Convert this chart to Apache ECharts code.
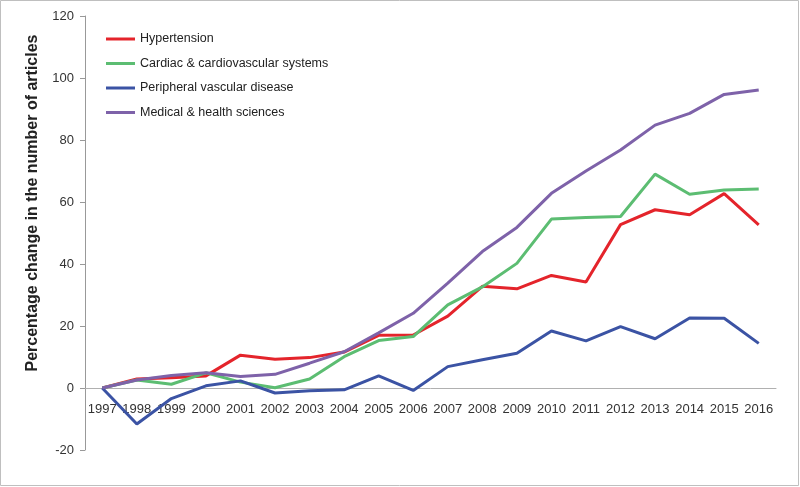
<!DOCTYPE html>
<html>
<head>
<meta charset="utf-8">
<script src="https://cdn.jsdelivr.net/npm/echarts@6/dist/echarts.min.js"></script>
<style>html,body{margin:0;padding:0;background:#fff}#chart{width:800px;height:487px}</style>
</head>
<body>
<div id="chart"></div>
<script>
var years = ['1997','1998','1999','2000','2001','2002','2003','2004','2005','2006','2007','2008','2009','2010','2011','2012','2013','2014','2015','2016'];
var hypertension = [0, 2.9, 3.3, 3.9, 10.6, 9.3, 9.8, 11.6, 17.0, 17.1, 23.2, 32.8, 32.0, 36.3, 34.2, 52.7, 57.5, 55.9, 62.7, 52.6];
var cardiac = [0, 2.6, 1.2, 4.9, 1.9, 0.1, 2.9, 10.1, 15.3, 16.6, 26.8, 32.6, 40.2, 54.5, 55.0, 55.3, 69.0, 62.5, 63.9, 64.2];
var peripheral = [0, -11.6, -3.4, 0.7, 2.3, -1.6, -0.9, -0.6, 3.9, -0.8, 6.9, 9.1, 11.2, 18.4, 15.2, 19.8, 15.9, 22.6, 22.5, 14.4];
var medical = [0, 2.6, 4.0, 4.9, 3.7, 4.4, 8.0, 11.7, 17.8, 24.1, 33.8, 44.0, 51.8, 62.8, 70.0, 76.8, 84.8, 88.6, 94.7, 96.1];
var seriesNames = ['Hypertension', 'Cardiac & cardiovascular systems', 'Peripheral vascular disease', 'Medical & health sciences'];
var yTicks = [-20, 0, 20, 40, 60, 80, 100, 120];
var yTitle = 'Percentage change in the number of articles';

var colors = ['#E4242B', '#5CBD72', '#3B53A4', '#7E62A9'];
var dataSets = [hypertension, cardiac, peripheral, medical];
var font = '"Liberation Sans", Arial, sans-serif';

var chart = echarts.init(document.getElementById('chart'), null, {renderer: 'canvas'});
chart.setOption({
  animation: false,
  color: colors,
  grid: {left: 85, right: 24, top: 16, bottom: 37, containLabel: false},
  legend: {
    orient: 'vertical', left: 101, top: 27,
    icon: 'rect', itemWidth: 29, itemHeight: 3, itemGap: 10.5,
    textStyle: {fontFamily: font, fontSize: 12.5, color: '#222', lineHeight: 14},
    data: seriesNames
  },
  xAxis: {
    type: 'category', data: years, boundaryGap: true,
    offset: -62,
    axisLine: {onZero: false, lineStyle: {color: '#B0B0B0', width: 1}},
    axisTick: {show: false},
    axisLabel: {fontFamily: font, fontSize: 13, color: '#333', margin: 15, interval: 0}
  },
  yAxis: {
    type: 'value', min: yTicks[0], max: yTicks[yTicks.length - 1], interval: 20,
    splitLine: {show: false},
    axisLine: {show: true, lineStyle: {color: '#999', width: 1}},
    axisTick: {show: true, inside: false, length: 5, lineStyle: {color: '#999'}},
    axisLabel: {fontFamily: font, fontSize: 13, color: '#333', margin: 11}
  },
  graphic: [
    {type: 'rect', shape: {x: 0.5, y: 0.5, width: 798, height: 485}, style: {fill: 'none', stroke: '#BFBFBF', lineWidth: 1}, silent: true},
    {type: 'text', x: 33, y: 203, rotation: Math.PI / 2,
     style: {text: yTitle, fontFamily: font, fontSize: 16, fontWeight: 'bold', fill: '#222', textAlign: 'center', textVerticalAlign: 'middle'}}
  ],
  series: seriesNames.map(function (n, i) {
    return {
      name: n, type: 'line', data: dataSets[i], showSymbol: false, symbol: 'none',
      lineStyle: {width: 3, color: colors[i]}, itemStyle: {color: colors[i]}
    };
  })
});
</script>
</body>
</html>
